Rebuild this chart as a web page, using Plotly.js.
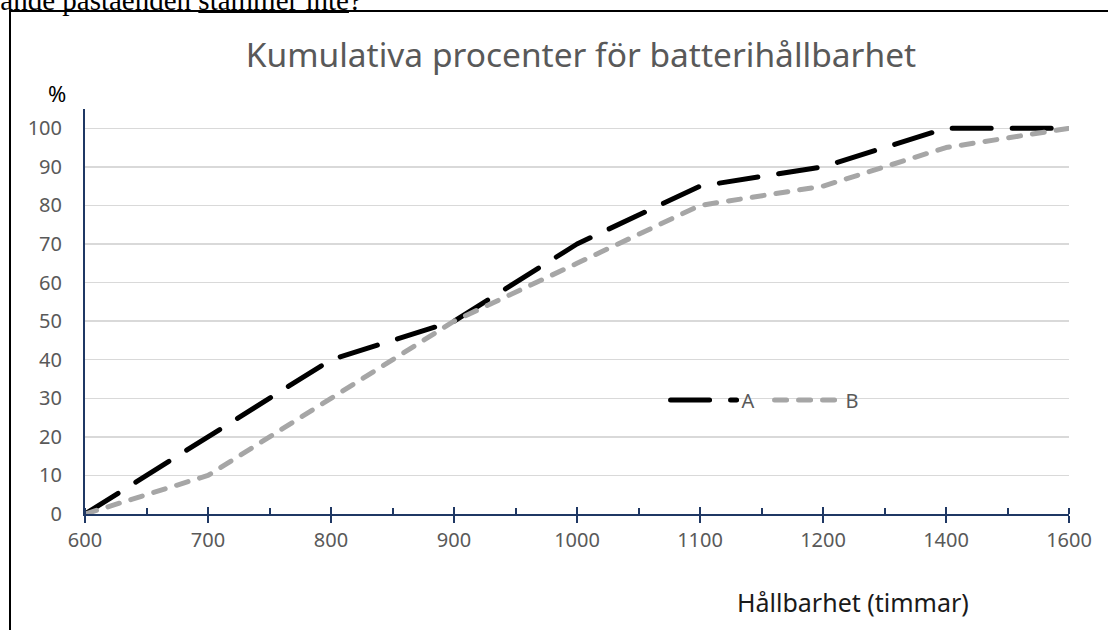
<!DOCTYPE html>
<html>
<head>
<meta charset="utf-8">
<script src="https://cdn.plot.ly/plotly-3.0.1.min.js"></script>
<style>
  html, body { margin: 0; padding: 0; background: #fff; }
  #wrap { position: relative; width: 1108px; height: 630px; overflow: hidden; }
  #chart { position: absolute; left: 0; top: 0; width: 1108px; height: 630px; }
  #frame { position: absolute; left: 9px; top: 10px; width: 1120px; height: 700px;
           border-left: 2px solid #000; border-top: 2px solid #000; pointer-events: none; }
  #cut { position: absolute; left: -40px; top: -14px; font-family: "Liberation Serif", serif;
         font-size: 29px; line-height: 29px; color: #000; white-space: nowrap; }
  #cut u { text-decoration-thickness: 1.5px; }
  .js-line { stroke-linecap: round; stroke-linejoin: round; }
</style>
</head>
<body>
<div id="wrap">
  <div id="chart"></div>
  <div id="frame"></div>
  <div id="cut">följande påståenden <u>stämmer inte</u>?</div>
</div>
<script>
// ---- data ----
const categories = ["600", "700", "800", "900", "1000", "1100", "1200", "1400", "1600"];
const seriesA = [0, 20, 40, 50, 70, 85, 90, 100, 100];
const seriesB = [0, 10, 30, 50, 65, 80, 85, 95, 100];
const yTicks = [0, 10, 20, 30, 40, 50, 60, 70, 80, 90, 100];
const chartTitle = "Kumulativa procenter för batterihållbarhet";
const xTitle = "Hållbarhet (timmar)";
const yTitle = "%";

const idx = categories.map((c, i) => i);
const axisColor = "#1f3864";
const textGray = "#595959";
const fontFam = "Noto Sans, Open Sans, sans-serif";

const traces = [
  { x: idx, y: seriesA, name: "A", mode: "lines", type: "scatter",
    line: { color: "#000000", width: 5, dash: "39px,21px" }, cliponaxis: true },
  { x: idx, y: seriesB, name: "B", mode: "lines", type: "scatter",
    line: { color: "#a6a6a6", width: 5, dash: "12px,12px" }, cliponaxis: true },
  // overlay axis to draw inside part of the crossing major ticks
  { x: [0], y: [0], xaxis: "x2", yaxis: "y", mode: "markers", marker: { opacity: 0 },
    showlegend: false, hoverinfo: "skip" }
];

const layout = {
  width: 1108, height: 630,
  margin: { l: 85, r: 39, t: 109, b: 116 },
  paper_bgcolor: "#ffffff", plot_bgcolor: "#ffffff",
  font: { family: fontFam, color: textGray, size: 20 },
  title: { text: chartTitle, font: { family: fontFam, size: 33.5, color: textGray },
           x: 0.504, xref: "paper", xanchor: "center", y: 0.912, yanchor: "middle" },
  showlegend: true,
  legend: { orientation: "h", x: 0.590, y: 0.2815, xanchor: "left", yanchor: "middle",
            font: { family: fontFam, size: 20, color: textGray }, itemwidth: 66,
            entrywidth: 23, entrywidthmode: "pixels",
            bgcolor: "rgba(0,0,0,0)" },
  xaxis: {
    range: [0, 8], tickvals: idx, ticktext: categories,
    showgrid: false, zeroline: false,
    showline: true, linecolor: axisColor, linewidth: 2,
    ticks: "outside", ticklen: 7, tickwidth: 2, tickcolor: axisColor,
    minor: { dtick: 0.5, tick0: 0, ticks: "inside", ticklen: 6, tickwidth: 2, tickcolor: axisColor, showgrid: false },
    tickfont: { family: fontFam, size: 20, color: textGray },
    fixedrange: true
  },
  xaxis2: {
    overlaying: "x", range: [0, 8], tickvals: idx, ticktext: categories.map(() => ""),
    showgrid: false, zeroline: false, showline: false, side: "bottom",
    ticks: "inside", ticklen: 7, tickwidth: 2, tickcolor: axisColor, showticklabels: false
  },
  yaxis: {
    range: [0, 105], tickvals: yTicks,
    showgrid: true, gridcolor: "#d9d9d9", gridwidth: 1.5,
    zeroline: false, showline: true, linecolor: axisColor, linewidth: 2,
    ticks: "", tickfont: { family: fontFam, size: 20, color: textGray },
    ticklabelstandoff: 17, fixedrange: true
  },
  annotations: [
    { text: yTitle, xref: "paper", yref: "paper", x: -0.0285, y: 1.04, xanchor: "center", yanchor: "middle",
      showarrow: false, font: { family: fontFam, size: 22, color: "#000000" } },
    { text: xTitle, xref: "paper", yref: "paper", x: 0.7805, y: -0.218, xanchor: "center", yanchor: "middle",
      showarrow: false, font: { family: fontFam, size: 25, color: "#1a1a1a" } }
  ]
};

Plotly.newPlot("chart", traces, layout, { displayModeBar: false, staticPlot: true });
</script>
</body>
</html>
